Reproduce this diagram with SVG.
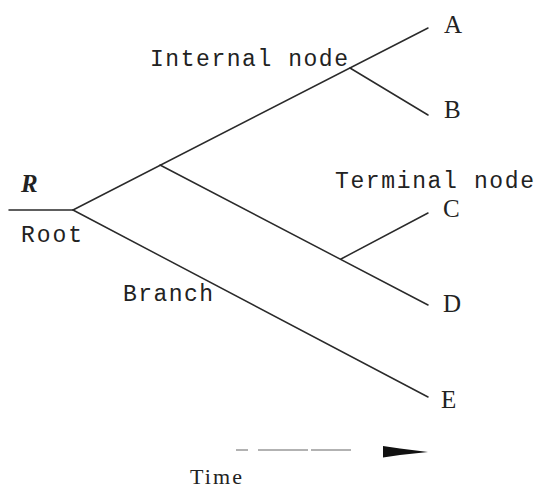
<svg xmlns="http://www.w3.org/2000/svg" width="535" height="488" viewBox="0 0 535 488">
<style>
.br{stroke:#2a2a2a;stroke-width:1.5;fill:none;stroke-linecap:round}
.mono{font-family:"Liberation Mono","Courier New",monospace;font-size:23px;fill:#222}
.ser{font-family:"Liberation Serif","Times New Roman",serif;font-size:25px;fill:#222}
</style>
<rect width="535" height="488" fill="#fff"/>
<g id="connectors">
<line class="br" x1="9" y1="210" x2="73" y2="210"/>
<line class="br" x1="73" y1="210" x2="428" y2="28"/>
<line class="br" x1="350" y1="68" x2="428" y2="115"/>
<line class="br" x1="160" y1="165" x2="428" y2="305"/>
<line class="br" x1="341" y1="259" x2="428" y2="213"/>
<line class="br" x1="73" y1="210" x2="428" y2="397"/>
</g>
<g id="root">
<text x="21" y="192" style="font-family:'Liberation Serif','Times New Roman',serif;font-size:25px;font-weight:bold;font-style:italic;fill:#222">R</text>
<text class="mono" x="21" y="242" textLength="61">Root</text>
</g>
<g id="internal-node"><text class="mono" x="150" y="66" textLength="198">Internal node</text></g>
<g id="terminal-node"><text class="mono" x="335" y="188" textLength="199">Terminal node</text></g>
<g id="branch"><text class="mono" x="123" y="301" textLength="90">Branch</text></g>
<g id="A"><text class="ser" x="444" y="33">A</text></g>
<g id="B"><text class="ser" x="444" y="118">B</text></g>
<g id="C"><text class="ser" x="443" y="217">C</text></g>
<g id="D"><text class="ser" x="443" y="312">D</text></g>
<g id="E"><text class="ser" x="441" y="408">E</text></g>
<g id="time">
<line x1="236" y1="450" x2="352" y2="450" stroke="#666" stroke-width="1.2" stroke-dasharray="12,10,50,3,40"/>
<polygon points="383,446 400,448.5 428,452 400,455 383,457.5" fill="#111"/>
<text x="190" y="484" textLength="52" style="font-family:'Liberation Serif','Times New Roman',serif;font-size:22px;fill:#222">Time</text>
</g>
</svg>
